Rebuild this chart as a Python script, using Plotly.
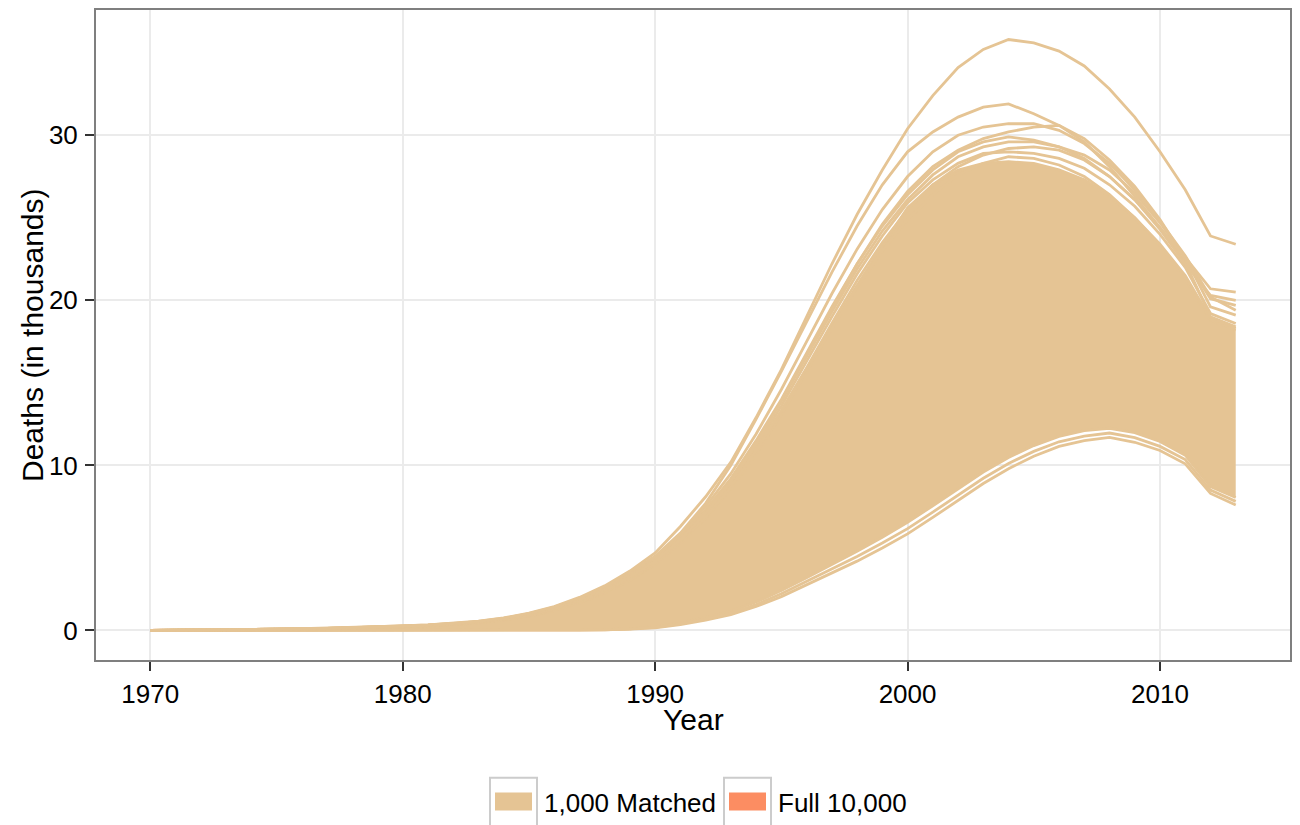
import plotly.graph_objects as go

# Simulated annual deaths (thousands), 1970-2013
years = list(range(1970, 2014))

# Highest trajectory
run_a = [0.00, 0.01, 0.02, 0.04, 0.06, 0.08, 0.11, 0.14, 0.18, 0.22,
         0.27, 0.34, 0.43, 0.56, 0.76, 1.05, 1.45, 2.00, 2.70, 3.60,
         4.70, 6.30, 8.10, 10.2, 12.9, 15.8, 19.0, 22.2, 25.2, 27.9,
         30.4, 32.4, 34.1, 35.2, 35.8, 35.6, 35.1, 34.2, 32.8, 31.1,
         29.0, 26.7, 23.9, 23.4]
run_b = [0.00, 0.01, 0.02, 0.03, 0.05, 0.07, 0.10, 0.13, 0.17, 0.21,
         0.26, 0.33, 0.42, 0.55, 0.74, 1.02, 1.42, 1.95, 2.65, 3.50,
         4.50, 5.90, 7.70, 10.0, 12.8, 15.7, 18.7, 21.7, 24.5, 27.0,
         29.0, 30.2, 31.1, 31.7, 31.9, 31.3, 30.6, 29.6, 28.1, 26.3,
         24.4, 22.6, 20.7, 20.5]
run_c1 = [0.00, 0.01, 0.02, 0.03, 0.05, 0.07, 0.10, 0.13, 0.16, 0.20,
          0.25, 0.32, 0.41, 0.53, 0.72, 1.00, 1.38, 1.90, 2.58, 3.42,
          4.40, 5.80, 7.50, 9.50, 11.9, 14.6, 17.5, 20.4, 23.1, 25.5,
          27.5, 29.0, 30.0, 30.5, 30.7, 30.7, 30.3, 29.5, 28.3, 26.7,
          24.8, 22.7, 20.2, 19.4]
run_c2 = [0.00, 0.01, 0.02, 0.03, 0.04, 0.06, 0.09, 0.12, 0.15, 0.19,
          0.24, 0.30, 0.39, 0.51, 0.69, 0.95, 1.32, 1.82, 2.47, 3.27,
          4.20, 5.50, 7.10, 9.00, 11.3, 13.9, 16.7, 19.5, 22.2, 24.6,
          26.6, 28.1, 29.1, 29.8, 30.2, 30.5, 30.6, 29.8, 28.5, 26.9,
          24.9, 22.5, 20.1, 19.7]
run_c3 = [0.00, 0.01, 0.02, 0.03, 0.05, 0.07, 0.09, 0.12, 0.16, 0.20,
          0.25, 0.31, 0.40, 0.52, 0.70, 0.97, 1.35, 1.86, 2.52, 3.35,
          4.30, 5.70, 7.30, 9.20, 11.5, 14.0, 16.8, 19.6, 22.2, 24.5,
          26.4, 27.9, 29.0, 29.6, 29.9, 29.7, 29.3, 28.6, 27.5, 26.1,
          24.3, 22.2, 20.3, 20.0]
run_c4 = [0.00, 0.01, 0.01, 0.02, 0.04, 0.06, 0.08, 0.11, 0.14, 0.18,
          0.23, 0.29, 0.37, 0.49, 0.66, 0.92, 1.28, 1.76, 2.39, 3.18,
          4.10, 5.40, 6.90, 8.70, 10.9, 13.3, 15.9, 18.6, 21.2, 23.5,
          25.5, 27.0, 28.1, 28.8, 29.2, 29.3, 29.1, 28.5, 27.5, 26.1,
          24.4, 22.3, 19.0, 18.4]
run_c5 = [0.00, 0.01, 0.01, 0.02, 0.04, 0.06, 0.08, 0.10, 0.14, 0.17,
          0.22, 0.28, 0.36, 0.47, 0.64, 0.89, 1.24, 1.71, 2.33, 3.10,
          4.00, 5.30, 6.80, 8.60, 10.7, 13.1, 15.7, 18.3, 20.8, 23.0,
          24.9, 26.4, 27.6, 28.3, 28.7, 28.6, 28.2, 27.5, 26.4, 25.0,
          23.4, 21.5, 18.9, 18.3]
run_c6 = [0.00, 0.01, 0.02, 0.03, 0.05, 0.07, 0.09, 0.12, 0.16, 0.20,
          0.25, 0.31, 0.40, 0.52, 0.70, 0.97, 1.34, 1.85, 2.50, 3.32,
          4.25, 5.60, 7.20, 9.10, 11.4, 13.9, 16.6, 19.3, 21.9, 24.2,
          26.1, 27.6, 28.7, 29.3, 29.6, 29.6, 29.3, 28.8, 27.9, 26.5,
          24.7, 22.6, 19.6, 19.1]
run_c7 = [0.00, 0.01, 0.01, 0.03, 0.04, 0.06, 0.09, 0.11, 0.15, 0.19,
          0.24, 0.30, 0.38, 0.50, 0.68, 0.94, 1.30, 1.80, 2.44, 3.24,
          4.15, 5.50, 7.05, 8.90, 11.1, 13.6, 16.3, 19.0, 21.6, 23.9,
          25.9, 27.3, 28.3, 28.9, 29.0, 28.9, 28.6, 28.0, 27.0, 25.7,
          24.0, 22.0, 19.2, 18.6]

# Upper and lower edges of the dense bulk of trajectories
bulk_top = [0.00, 0.01, 0.01, 0.02, 0.04, 0.05, 0.07, 0.10, 0.13, 0.17,
            0.21, 0.27, 0.35, 0.46, 0.62, 0.87, 1.21, 1.67, 2.27, 3.02,
            4.05, 5.35, 6.90, 8.75, 10.9, 13.3, 15.85, 18.4, 20.9, 23.3,
            25.6, 27.0, 27.9, 28.3, 28.4, 28.3, 27.9, 27.3, 26.3, 25.0,
            23.3, 21.3, 18.8, 18.2]
bulk_bottom = [0.00, 0.00, 0.00, 0.00, 0.00, 0.00, 0.00, 0.00, 0.00, 0.00,
               0.00, 0.00, 0.00, 0.00, 0.00, 0.00, 0.01, 0.02, 0.05, 0.10,
               0.23, 0.46, 0.78, 1.17, 1.72, 2.42, 3.20, 3.98, 4.80, 5.65,
               6.55, 7.55, 8.60, 9.60, 10.48, 11.20, 11.75, 12.10, 12.25, 11.98,
               11.45, 10.62, 8.72, 8.05]

# Lowest trajectories
run_low2 = [0.00, 0.00, 0.00, 0.00, 0.00, 0.00, 0.00, 0.00, 0.00, 0.00,
            0.00, 0.00, 0.00, 0.00, 0.00, 0.00, 0.01, 0.02, 0.04, 0.09,
            0.19, 0.40, 0.69, 1.05, 1.57, 2.22, 2.96, 3.70, 4.48, 5.30,
            6.17, 7.17, 8.22, 9.22, 10.12, 10.85, 11.43, 11.78, 11.96, 11.68,
            11.15, 10.35, 8.50, 7.82]
run_low = [0.00, 0.00, 0.00, 0.00, 0.00, 0.00, 0.00, 0.00, 0.00, 0.00,
           0.00, 0.00, 0.00, 0.00, 0.00, 0.00, 0.01, 0.02, 0.04, 0.08,
           0.16, 0.35, 0.62, 0.96, 1.45, 2.05, 2.75, 3.45, 4.20, 5.00,
           5.85, 6.85, 7.90, 8.90, 9.80, 10.55, 11.15, 11.50, 11.70, 11.40,
           10.90, 10.10, 8.30, 7.60]

series_labels = ["1,000 Matched", "Full 10,000"]
series_colors = ["#E5C494", "#FC8D62"]

TAN = series_colors[0]
FONT = "Liberation Sans, Arial, Helvetica, sans-serif"
LW = 2.8

fig = go.Figure()

# dense bulk as a filled band
fig.add_trace(go.Scatter(x=years, y=bulk_bottom, mode="lines",
                         line=dict(color=TAN, width=LW), hoverinfo="skip",
                         showlegend=False))
fig.add_trace(go.Scatter(x=years, y=bulk_top, mode="lines", fill="tonexty",
                         fillcolor=TAN, line=dict(color=TAN, width=LW),
                         hoverinfo="skip", showlegend=False))

runs = [run_low, run_low2, run_c7, run_c5, run_c4, run_c6, run_c3,
        run_c2, run_c1, run_b, run_a]
for run in runs:
    fig.add_trace(go.Scatter(x=years, y=run, mode="lines",
                             line=dict(color=TAN, width=LW),
                             hoverinfo="skip", showlegend=False))

# axis ranges with 5% padding on both sides
x_span = years[-1] - years[0]
x_range = [years[0] - 0.05 * x_span, years[-1] + 0.05 * x_span]
y_max = max(run_a)
y_range = [-0.05 * y_max, y_max * 1.05]

# plot-area geometry in pixels
W, H = 1300, 825
L_M, R_M, T_M, B_M = 96, 10, 8, 165
PW = W - L_M - R_M
PH = H - T_M - B_M


def px_x(px):
    return (px - L_M) / PW


def px_y(py):
    return (H - B_M - py) / PH


axis_common = dict(
    showline=True, mirror=True, linecolor="#7F7F7F", linewidth=2,
    showgrid=True, gridcolor="#EBEBEB", gridwidth=1.5, zeroline=False,
    ticks="outside", ticklen=9, tickwidth=2, tickcolor="#333333",
    tickfont=dict(family=FONT, size=26, color="#000000"),
)

fig.update_layout(
    width=W, height=H,
    margin=dict(l=L_M, r=R_M, t=T_M, b=B_M),
    paper_bgcolor="white", plot_bgcolor="white",
    showlegend=False,
    xaxis=dict(range=x_range, tickvals=[1970, 1980, 1990, 2000, 2010],
               ticklabelstandoff=1, **axis_common),
    yaxis=dict(range=y_range, tickvals=[0, 10, 20, 30],
               ticklabelstandoff=2, **axis_common),
)

annotations = [
    dict(text="Year", x=0.5, y=px_y(720), xref="paper", yref="paper",
         showarrow=False, xanchor="center", yanchor="middle",
         font=dict(family=FONT, size=30, color="#000000")),
    dict(text="Deaths (in thousands)", x=px_x(32), y=0.5, xref="paper",
         yref="paper", showarrow=False, textangle=-90, xanchor="center",
         yanchor="middle", font=dict(family=FONT, size=30, color="#000000")),
]

# legend keys drawn below the plot
shapes = []
key_lefts = [490, 724]
for left, label, color in zip(key_lefts, series_labels, series_colors):
    shapes.append(dict(type="rect", xref="paper", yref="paper",
                       x0=px_x(left), x1=px_x(left + 47),
                       y0=px_y(778), y1=px_y(830),
                       line=dict(color="#CCCCCC", width=2), fillcolor="white"))
    shapes.append(dict(type="rect", xref="paper", yref="paper",
                       x0=px_x(left + 5), x1=px_x(left + 42),
                       y0=px_y(793), y1=px_y(811),
                       line=dict(width=0), fillcolor=color))
    annotations.append(dict(text=label, x=px_x(left + 52), y=px_y(803),
                            xref="paper", yref="paper", showarrow=False,
                            xanchor="left", yanchor="middle",
                            font=dict(family=FONT, size=26, color="#000000")))

fig.update_layout(annotations=annotations, shapes=shapes)

fig.write_html("out.html")
